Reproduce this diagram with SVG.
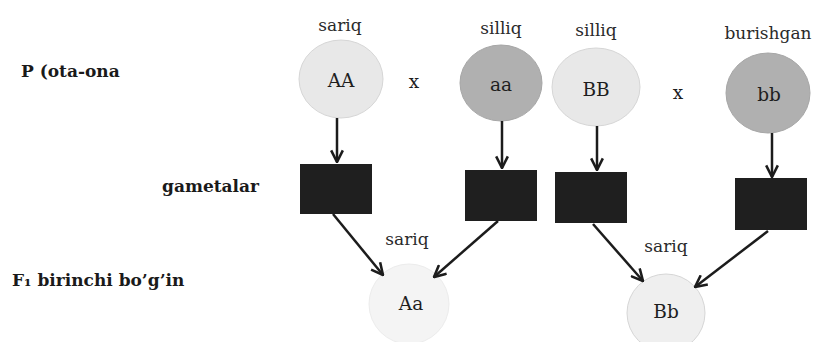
<svg xmlns="http://www.w3.org/2000/svg" width="824" height="342" viewBox="0 0 824 342">
<defs>
<style>
.lbl{font-family:"DejaVu Serif","Liberation Serif",serif;font-size:17px;fill:#2a2a2a;text-anchor:middle}
.gen{font-family:"DejaVu Serif","Liberation Serif",serif;font-size:18.5px;fill:#1e1e1e;text-anchor:middle}
.head{font-family:"DejaVu Serif","Liberation Serif",serif;font-size:17px;font-weight:bold;fill:#1a1a1a}
.light{fill:#e8e8e8;stroke:#d6d6d6;stroke-width:1}
.dark{fill:#b0b0b0;stroke:#a6a6a6;stroke-width:1}
.faint{fill:#f4f4f4;stroke:#ececec;stroke-width:1}
.gam{fill:#1f1f1f}
.arr{stroke:#1c1c1c;stroke-width:2.5;fill:none;marker-end:url(#ah)}
</style>
<marker id="ah" viewBox="0 0 12 12" refX="11" refY="6" markerWidth="14" markerHeight="14" markerUnits="userSpaceOnUse" orient="auto">
<path d="M1,1 L11,6 L1,11" fill="none" stroke="#1c1c1c" stroke-width="2.2"/>
</marker>
</defs>
<rect width="824" height="342" fill="#ffffff"/>

<g id="labels">
<text class="head" x="21" y="77">P (ota-ona</text>
<text class="head" x="162" y="192">gametalar</text>
<text class="head" x="12" y="286">F₁ birinchi bo’g’in</text>
<text class="gen" x="414" y="88">x</text>
<text class="gen" x="678" y="99">x</text>
</g>

<g id="parent-AA">
<text class="lbl" x="340" y="31">sariq</text>
<ellipse class="light" cx="341" cy="79" rx="42" ry="39"/>
<text class="gen" x="341" y="87">AA</text>
</g>
<g id="parent-aa">
<text class="lbl" x="501" y="34">silliq</text>
<ellipse class="dark" cx="501" cy="83" rx="41" ry="38"/>
<text class="gen" x="501" y="91">aa</text>
</g>
<g id="parent-BB">
<text class="lbl" x="596" y="36">silliq</text>
<ellipse class="light" cx="596" cy="87" rx="44" ry="39"/>
<text class="gen" x="596" y="96">BB</text>
</g>
<g id="parent-bb">
<text class="lbl" x="768" y="39">burishgan</text>
<ellipse class="dark" cx="768" cy="93" rx="42" ry="40"/>
<text class="gen" x="769" y="101">bb</text>
</g>

<g id="gamete-A"><rect class="gam" x="300" y="164" width="72" height="50"/></g>
<g id="gamete-a"><rect class="gam" x="465" y="170" width="72" height="51"/></g>
<g id="gamete-B"><rect class="gam" x="555" y="172" width="72" height="51"/></g>
<g id="gamete-b"><rect class="gam" x="735" y="178" width="72" height="52"/></g>

<g id="child-Aa">
<text class="lbl" x="407" y="245">sariq</text>
<circle class="faint" cx="409" cy="304" r="40"/>
<text class="gen" x="411" y="310">Aa</text>
</g>
<g id="child-Bb">
<text class="lbl" x="666" y="252">sariq</text>
<circle class="light" cx="666" cy="313" r="39" style="fill:#efefef"/>
<text class="gen" x="666" y="318">Bb</text>
</g>

<g id="connectors">
<line class="arr" x1="337" y1="118" x2="337" y2="162"/>
<line class="arr" x1="502" y1="121" x2="502" y2="168"/>
<line class="arr" x1="597" y1="126" x2="597" y2="170"/>
<line class="arr" x1="772" y1="133" x2="772" y2="177"/>
<line class="arr" x1="333" y1="214" x2="383" y2="275"/>
<line class="arr" x1="498" y1="221" x2="434" y2="277"/>
<line class="arr" x1="593" y1="224" x2="643" y2="281"/>
<line class="arr" x1="768" y1="231" x2="695" y2="287"/>
</g>
</svg>
